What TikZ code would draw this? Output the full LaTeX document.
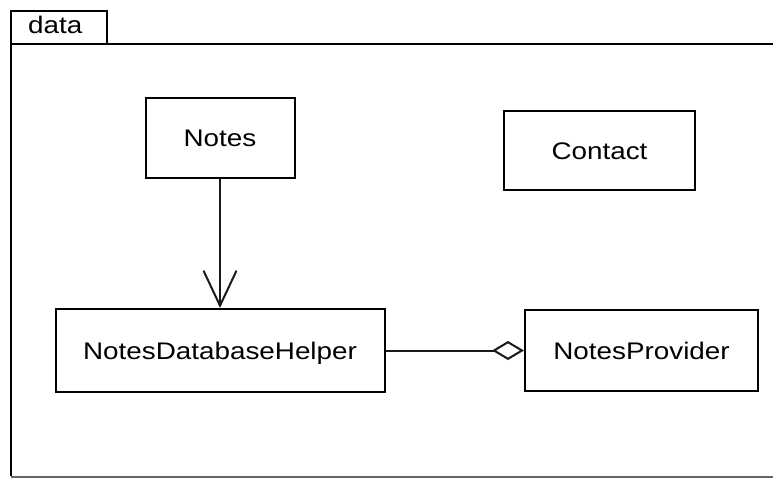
\documentclass[tikz,border=0pt]{standalone}
\usepackage{fontspec}
\newfontfamily\umlfont[FakeStretch=1.16]{Liberation Sans}
\usetikzlibrary{arrows.meta}
\tikzset{
  cls/.style={draw=black, line width=2pt, fill=white, inner sep=0pt,
    font=\umlfont\fontsize{24}{28}\selectfont, text height=17.2pt, text depth=0pt},
  frameline/.style={draw=black, line width=2pt},
  conn/.style={draw=black!90, line width=2pt},
}
\begin{document}
\begin{tikzpicture}[x=1pt,y=-1pt]
\useasboundingbox (0,0) rectangle (773,477);
% package frame
\draw[frameline] (11,44) -- (11,11) -- (107,11) -- (107,44);
\draw[frameline] (11,476) -- (11,44) -- (780,44);
\draw[frameline, draw=black!60] (11,476.5) -- (780,476.5);
\node[anchor=base west, font=\umlfont\fontsize{24}{28}\selectfont, inner sep=0pt] (pkg) at (28,33) {data};
% classes
\node[cls, minimum width=149pt, minimum height=80pt] (notes) at (220,138) {Notes};
\node[cls, minimum width=191pt, minimum height=79pt] (contact) at (599.5,150.5) {Contact};
\node[cls, minimum width=329pt, minimum height=83pt] (helper) at (220,350.5) {NotesDatabaseHelper};
\node[cls, minimum width=233pt, minimum height=81pt] (provider) at (641.5,350.5) {NotesProvider};
% connectors
\draw[conn, -{Straight Barb[length=35pt, width=33pt, line width=2pt]}] (notes.south) -- (helper.north);
\draw[conn, -{Diamond[open, length=32pt, width=19pt, line width=2pt, fill=white]}] (helper.east) -- (provider.west);
\end{tikzpicture}
\end{document}
